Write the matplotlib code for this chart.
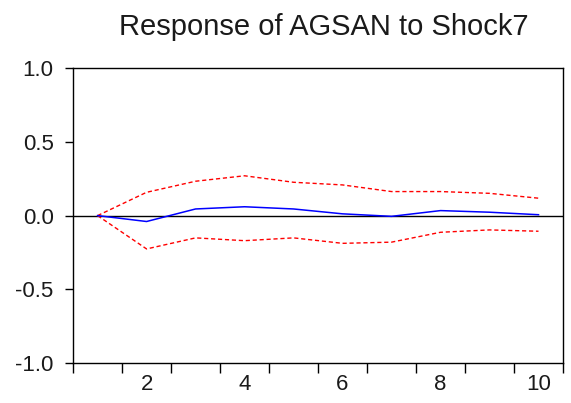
import matplotlib
matplotlib.use("Agg")
import matplotlib.pyplot as plt

# impulse response, periods 1..10
periods = [1, 2, 3, 4, 5, 6, 7, 8, 9, 10]
response = [0.0, -0.04, 0.045, 0.06, 0.045, 0.012, -0.005, 0.034, 0.023, 0.006]
upper = [0.0, 0.158, 0.233, 0.27, 0.226, 0.208, 0.163, 0.163, 0.151, 0.118]
lower = [0.0, -0.226, -0.151, -0.17, -0.151, -0.188, -0.18, -0.113, -0.097, -0.106]

x_labels = [2, 4, 6, 8, 10]
y_ticks = [-1.0, -0.5, 0.0, 0.5, 1.0]

plt.rcParams["font.family"] = ["Liberation Sans", "DejaVu Sans"]

fig = plt.figure(figsize=(5.71, 4.03), dpi=100)
ax = fig.add_axes([0.128, 0.099, 0.858, 0.732])

ax.axhline(0, color="black", linewidth=1.0, zorder=1)
ax.plot(periods, upper, color="#FF0000", linewidth=1.0, dashes=(3, 2), zorder=2)
ax.plot(periods, lower, color="#FF0000", linewidth=1.0, dashes=(3, 2), zorder=2)
ax.plot(periods, response, color="#0000FF", linewidth=1.1, zorder=3)

ax.set_xlim(0.5, 10.5)
ax.set_ylim(-1.0, 1.0)

# ticks between periods, labels at even periods
ax.set_xticks([p - 0.5 for p in periods] + [10.5])
ax.set_xticklabels([])
ax.set_xticks(x_labels, minor=True)
ax.set_xticklabels([str(v) for v in x_labels], minor=True)
ax.tick_params(axis="x", which="major", direction="out", length=7, width=1.0)
ax.tick_params(axis="x", which="minor", length=0, labelsize=16, pad=8, colors="#1a1a1a")

ax.set_yticks(y_ticks)
ax.set_yticklabels(["%.1f" % v for v in y_ticks])
ax.tick_params(axis="y", direction="out", length=6, width=1.0, labelsize=16, colors="#1a1a1a", pad=8)
ax.tick_params(axis="both", which="major", color="black")

for s in ax.spines.values():
    s.set_linewidth(1.0)

fig.text(0.567, 0.933, "Response of AGSAN to Shock7", ha="center", va="center", fontsize=21, color="#1a1a1a")

fig.savefig("out.png", dpi=100, facecolor="white")
